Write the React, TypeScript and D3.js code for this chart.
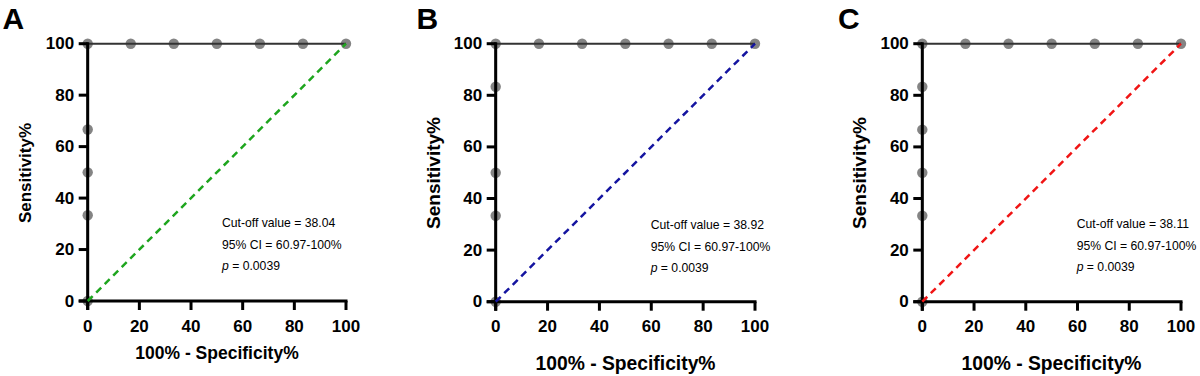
import React from "react";
import * as d3 from "d3";

// ---- data ----
const panelLetters = ["A", "B", "C"];
const rocAx = [0, 0, 0, 0, 0, 16.67, 33.33, 50, 66.67, 83.33, 100];
const rocAy = [0, 33.33, 50, 66.67, 100, 100, 100, 100, 100, 100, 100];
const rocBx = [0, 0, 0, 0, 0, 16.67, 33.33, 50, 66.67, 83.33, 100];
const rocBy = [0, 33.33, 50, 83.33, 100, 100, 100, 100, 100, 100, 100];
const rocCx = [0, 0, 0, 0, 0, 0, 16.67, 33.33, 50, 66.67, 83.33, 100];
const rocCy = [0, 33.33, 50, 66.67, 83.33, 100, 100, 100, 100, 100, 100, 100];
const cutoffs = ["38.04", "38.92", "38.11"];
const ciText = "60.97-100%";
const pText = "0.0039";
const tickValues = [0, 20, 40, 60, 80, 100];
const refColors = ["#1ea51e", "#1414a0", "#f01414"];
const xTitle = "100% - Specificity%";
const yTitle = "Sensitivity%";

// ---- layout (per panel) ----
const layouts = [
  { l: 87.7, r: 346, t: 43.7, b: 301, letterX: 2.5, yTitleX: 25, yTitleSize: 17, xTitleX: 217, xTitleY: 353, xTitleSize: 17.5, annX: 222, annY: 223 },
  { l: 495.7, r: 755, t: 43.7, b: 301.7, letterX: 416.5, yTitleX: 433.5, yTitleSize: 19, xTitleX: 625.5, xTitleY: 363, xTitleSize: 19.3, annX: 650.7, annY: 225 },
  { l: 922.3, r: 1181, t: 43.7, b: 301.7, letterX: 838, yTitleX: 859.5, yTitleSize: 19, xTitleX: 1051.5, xTitleY: 363, xTitleSize: 19.3, annX: 1076.7, annY: 224 },
];

const rocX = [rocAx, rocBx, rocCx];
const rocY = [rocAy, rocBy, rocCy];

const FONT = "'Liberation Sans', Arial, Helvetica, sans-serif";

function Panel({ i }: { i: number }) {
  const L = layouts[i];
  const x = d3.scaleLinear().domain([0, 100]).range([L.l, L.r]);
  const y = d3.scaleLinear().domain([0, 100]).range([L.b, L.t]);
  const xs = rocX[i];
  const ys = rocY[i];
  const pts = xs.map((v, k) => [v, ys[k]] as [number, number]);
  const line = d3
    .line<[number, number]>()
    .x((d) => x(d[0]))
    .y((d) => y(d[1]));
  const diag = line([
    [0, 0],
    [100, 100],
  ]) as string;
  const tickLen = 9;
  return (
    <g>
      <text x={L.letterX} y={28.5} fontFamily={FONT} fontWeight="bold" fontSize={30} fill="#000">
        {panelLetters[i]}
      </text>
      {pts.map((p, k) => (
        <circle key={k} cx={x(p[0])} cy={y(p[1])} r={5.2} fill="#7a7a7a" fillOpacity={0.92} />
      ))}
      <path d={line(pts) as string} fill="none" stroke="#333" strokeWidth={2} />
      {/* axes */}
      <line x1={x(0)} x2={x(0)} y1={y(100) - 1.5} y2={y(0) + tickLen} stroke="#000" strokeWidth={3} />
      <line x1={x(0) - tickLen} x2={x(100) + 1.5} y1={y(0)} y2={y(0)} stroke="#000" strokeWidth={3} />
      {tickValues.map((t) => (
        <g key={"x" + t}>
          <line x1={x(t)} x2={x(t)} y1={y(0)} y2={y(0) + tickLen} stroke="#000" strokeWidth={3} />
          <text x={x(t)} y={y(0) + 25} textAnchor="middle" dominantBaseline="central" fontFamily={FONT} fontWeight="bold" fontSize={17} fill="#000">
            {t}
          </text>
        </g>
      ))}
      {tickValues.map((t) => (
        <g key={"y" + t}>
          <line x1={x(0) - tickLen} x2={x(0)} y1={y(t)} y2={y(t)} stroke="#000" strokeWidth={3} />
          <text x={x(0) - 13.5} y={y(t)} textAnchor="end" dominantBaseline="central" fontFamily={FONT} fontWeight="bold" fontSize={17} fill="#000">
            {t}
          </text>
        </g>
      ))}
      <path d={diag} fill="none" stroke={refColors[i]} strokeWidth={2.5} strokeDasharray="7,5" />
      <text x={L.xTitleX} y={L.xTitleY} textAnchor="middle" dominantBaseline="central" fontFamily={FONT} fontWeight="bold" fontSize={L.xTitleSize} fill="#000">
        {xTitle}
      </text>
      <text
        transform={`translate(${L.yTitleX},173) rotate(-90)`}
        textAnchor="middle"
        dominantBaseline="central"
        fontFamily={FONT}
        fontWeight="bold"
        fontSize={L.yTitleSize}
        fill="#000"
      >
        {yTitle}
      </text>
      <g fontFamily={FONT} fontSize={12.2} fill="#000">
        <text x={L.annX} y={L.annY} dominantBaseline="central">{`Cut-off value = ${cutoffs[i]}`}</text>
        <text x={L.annX} y={L.annY + 21.5} dominantBaseline="central">{`95% CI = ${ciText}`}</text>
        <text x={L.annX} y={L.annY + 42.5} dominantBaseline="central">
          <tspan fontStyle="italic">p</tspan>
          {` = ${pText}`}
        </text>
      </g>
    </g>
  );
}

export default function App() {
  return (
    <svg width={1200} height={376} style={{ position: "absolute", left: 0, top: 0, background: "#fff" }}>
      <rect width={1200} height={376} fill="#fff" />
      {[0, 1, 2].map((i) => (
        <Panel key={i} i={i} />
      ))}
    </svg>
  );
}
